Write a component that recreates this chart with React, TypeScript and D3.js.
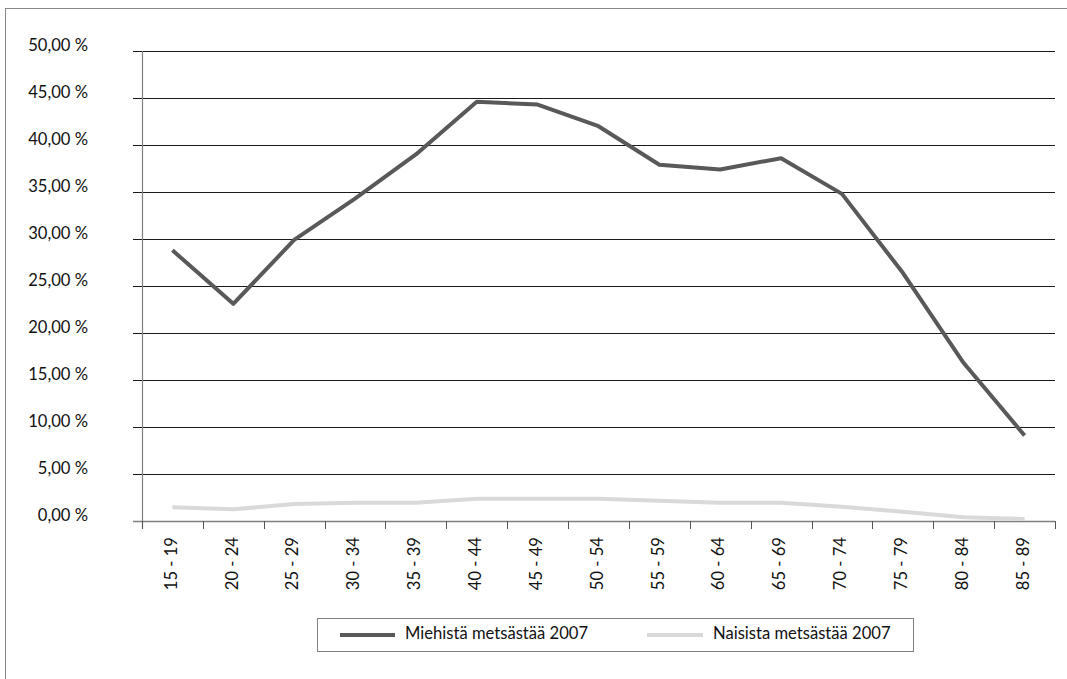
import React from "react";
import * as d3 from "d3";

const ageGroups = [
  "15 - 19", "20 - 24", "25 - 29", "30 - 34", "35 - 39", "40 - 44", "45 - 49",
  "50 - 54", "55 - 59", "60 - 64", "65 - 69", "70 - 74", "75 - 79", "80 - 84", "85 - 89",
];
const menHunting = [28.8, 23.1, 29.9, 34.3, 39.0, 44.6, 44.3, 42.0, 37.9, 37.4, 38.6, 34.8, 26.4, 16.8, 9.1];
const womenHunting = [1.46, 1.24, 1.8, 1.95, 1.95, 2.37, 2.37, 2.37, 2.16, 1.95, 1.95, 1.52, 0.99, 0.39, 0.21];
const yTicks = [0, 5, 10, 15, 20, 25, 30, 35, 40, 45, 50];
const seriesNames = ["Miehistä metsästää 2007", "Naisista metsästää 2007"];
const seriesColors = ["#595959", "#d9d9d9"];

const W = 1067;
const H = 679;
const FONT = "Lato, 'Open Sans', sans-serif";
const FS = 16.6;

export default function App() {
  const x = d3.scaleBand<string>().domain(ageGroups).range([142, 1055]);
  const y = d3.scaleLinear().domain([0, 50]).range([521, 51]);
  const cx = (c: string) => (x(c) ?? 0) + x.bandwidth() / 2;
  const line = d3
    .line<number>()
    .x((_, i) => cx(ageGroups[i]))
    .y((d) => y(d));
  const fmt = (v: number) => v.toFixed(2).replace(".", ",") + " %";
  const x0 = x.range()[0];
  const x1 = x.range()[1];
  const tickEdges = [...ageGroups.map((c) => x(c) ?? 0), x1];

  return (
    <svg
      width={W}
      height={H}
      style={{ position: "absolute", left: 0, top: 0, display: "block", background: "#fff" }}
      fontFamily={FONT}
    >
      <rect x={5.5} y={8.5} width={W + 10} height={H + 10} fill="#fff" stroke="#888" strokeWidth={1} />

      {/* horizontal gridlines with left ticks */}
      {yTicks.map((t) => (
        <g key={t}>
          {t > 0 && (
            <line x1={133} x2={x1} y1={Math.round(y(t)) + 0.5} y2={Math.round(y(t)) + 0.5} stroke="#1a1a1a" strokeWidth={1} />
          )}
          <text x={88} y={y(t) - 4} textAnchor="end" dominantBaseline="middle" fontSize={FS} fill="#111">
            {fmt(t)}
          </text>
        </g>
      ))}

      {/* axes */}
      <line x1={x0 + 0.5} x2={x0 + 0.5} y1={y(50)} y2={529} stroke="#7f7f7f" strokeWidth={1.2} />
      <line x1={133} x2={x1} y1={Math.round(y(0)) + 0.5} y2={Math.round(y(0)) + 0.5} stroke="#7f7f7f" strokeWidth={1.5} />
      {tickEdges.map((e, i) => (
        <line key={i} x1={Math.round(e) + 0.5} x2={Math.round(e) + 0.5} y1={y(0)} y2={529} stroke="#555" strokeWidth={1} />
      ))}

      {/* category labels */}
      {ageGroups.map((c) => (
        <text
          key={c}
          transform={`translate(${cx(c)},537) rotate(-90)`}
          textAnchor="end"
          dominantBaseline="middle"
          fontSize={FS}
          fill="#111"
        >
          {c}
        </text>
      ))}

      {/* series */}
      <path d={line(womenHunting) ?? ""} fill="none" stroke={seriesColors[1]} strokeWidth={4} strokeLinejoin="round" />
      <path d={line(menHunting) ?? ""} fill="none" stroke={seriesColors[0]} strokeWidth={4} strokeLinejoin="round" />

      {/* legend */}
      <rect x={317.5} y={618.5} width={596} height={33} fill="#fff" stroke="#7f7f7f" strokeWidth={1} />
      <line x1={340} x2={395} y1={635} y2={635} stroke={seriesColors[0]} strokeWidth={4} />
      <text x={405} y={635} dominantBaseline="middle" fontSize={FS} fill="#111">
        {seriesNames[0]}
      </text>
      <line x1={647} x2={703} y1={635} y2={635} stroke={seriesColors[1]} strokeWidth={4} />
      <text x={713} y={635} dominantBaseline="middle" fontSize={FS} fill="#111">
        {seriesNames[1]}
      </text>
    </svg>
  );
}
